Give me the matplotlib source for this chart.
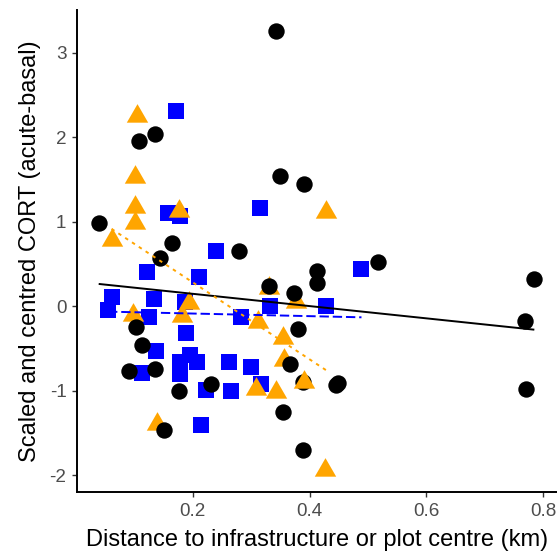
import numpy as np
import matplotlib
matplotlib.use("Agg")
import matplotlib.pyplot as plt
from matplotlib.path import Path

# %%
# Data
# ~~~~~~~~~~~~~~~~~~~~~~~~~~~~~~~~~

# black circles
circle_x = [0.039, 0.108, 0.135, 0.165, 0.144, 0.279, 0.343, 0.349, 0.390, 0.518,
            0.412, 0.413, 0.785, 0.330, 0.374, 0.103, 0.114, 0.091, 0.135, 0.176,
            0.231, 0.150, 0.354, 0.380, 0.366, 0.389, 0.446, 0.448, 0.389, 0.769,
            0.770]
circle_y = [0.988, 1.949, 2.040, 0.744, 0.566, 0.652, 3.254, 1.546, 1.447, 0.526,
            0.419, 0.277, 0.320, 0.237, 0.150, -0.245, -0.455, -0.771, -0.739, -1.004,
            -0.917, -1.471, -1.254, -0.270, -0.688, -0.898, -0.937, -0.910, -1.708, -0.178,
            -0.976]

# blue squares
square_x = [0.171, 0.158, 0.178, 0.240, 0.316, 0.121, 0.210, 0.489, 0.061, 0.055,
            0.133, 0.126, 0.186, 0.189, 0.137, 0.113, 0.178, 0.196, 0.207, 0.179,
            0.223, 0.263, 0.266, 0.299, 0.317, 0.283, 0.333, 0.429, 0.214]
square_y = [2.305, 1.100, 1.068, 0.656, 1.159, 0.407, 0.348, 0.443, 0.110, -0.047,
            0.079, -0.127, 0.051, -0.324, -0.534, -0.791, -0.660, -0.581, -0.660, -0.799,
            -0.996, -0.660, -1.004, -0.719, -0.917, -0.127, 0.004, 0.004, -1.404]

# orange triangles
triangle_x = [0.104, 0.101, 0.102, 0.102, 0.176, 0.061, 0.429, 0.097, 0.194, 0.181,
              0.309, 0.343, 0.312, 0.138, 0.330, 0.377, 0.354, 0.357, 0.391, 0.427]
triangle_y = [2.245, 1.534, 1.178, 0.980, 1.130, 0.783, 1.119, -0.107, 0.032, -0.119,
              -0.976, -1.016, -0.186, -1.392, 0.217, 0.051, -0.383, -0.640, -0.898, -1.945]
# triangles that sit above the black circles
triangle_on_top = [False] * 18 + [True, False]

x_ticks = [0.2, 0.4, 0.6, 0.8]
y_ticks = [-2, -1, 0, 1, 2, 3]

# %%
# Figure setup
# ~~~~~~~~~~~~

plt.rcParams["font.family"] = ["Liberation Sans", "DejaVu Sans"]

fig = plt.figure(figsize=(5.57, 5.51), dpi=100)
ax = fig.add_axes([0.1388, 0.1076, 0.8612, 0.8743])

# centroid-centred triangle, like R's pch 17
tri = Path([(0, 1), (-0.866, -0.5), (0.866, -0.5), (0, 1)], closed=True)

ax.scatter(square_x, square_y, marker="s", s=11.5 ** 2, color="#0000FF",
           linewidths=0, zorder=2)
tx = np.array(triangle_x)
ty = np.array(triangle_y)
top = np.array(triangle_on_top)
ax.scatter(tx[~top], ty[~top], marker=tri, s=17.8 ** 2, color="#FFA500",
           linewidths=0, zorder=3)
ax.scatter(circle_x, circle_y, marker="o", s=11.8 ** 2, color="black",
           linewidths=0, zorder=4)
ax.scatter(tx[top], ty[top], marker=tri, s=17.8 ** 2, color="#FFA500",
           linewidths=0, zorder=5)


def fit_line(xs, ys, **kw):
    """Least-squares line over the range of the group's x values."""
    xs = np.asarray(xs)
    slope, icpt = np.polyfit(xs, ys, 1)
    xx = np.array([xs.min(), xs.max()])
    ax.plot(xx, icpt + slope * xx, zorder=6, **kw)


fit_line(circle_x, circle_y, color="black", lw=1.4, solid_capstyle="butt")
fit_line(square_x, square_y, color="#0000FF", lw=1.4, linestyle=(0, (4.8, 2.0)))
fit_line(triangle_x, triangle_y, color="#FFA500", lw=1.4, linestyle=(0, (1.8, 2.4)))

# %%
# Axes styling (classic theme)
# ~~~~~~~~~~~~~~~~~~~~~~~~~~~~

ax.set_xlim(0.0024, 0.8238)
ax.set_ylim(-2.197, 3.506)
ax.set_xticks(x_ticks)
ax.set_xticklabels(["0.2", "0.4", "0.6", "0.8"])
ax.set_yticks(y_ticks)
ax.set_yticklabels([str(v) for v in y_ticks])

for side in ["top", "right"]:
    ax.spines[side].set_visible(False)
for side in ["left", "bottom"]:
    ax.spines[side].set_linewidth(1.4)
    ax.spines[side].set_color("black")

ax.tick_params(axis="both", length=3.8, width=1.0, color="#333333",
               labelcolor="#4D4D4D", labelsize=13.6, pad=4)

ax.set_xlabel("Distance to infrastructure or plot centre (km)", fontsize=17,
              color="black", labelpad=7)
ax.set_ylabel("Scaled and centred CORT (acute-basal)", fontsize=17,
              color="black", labelpad=6)

fig.savefig("out.png", dpi=100)
